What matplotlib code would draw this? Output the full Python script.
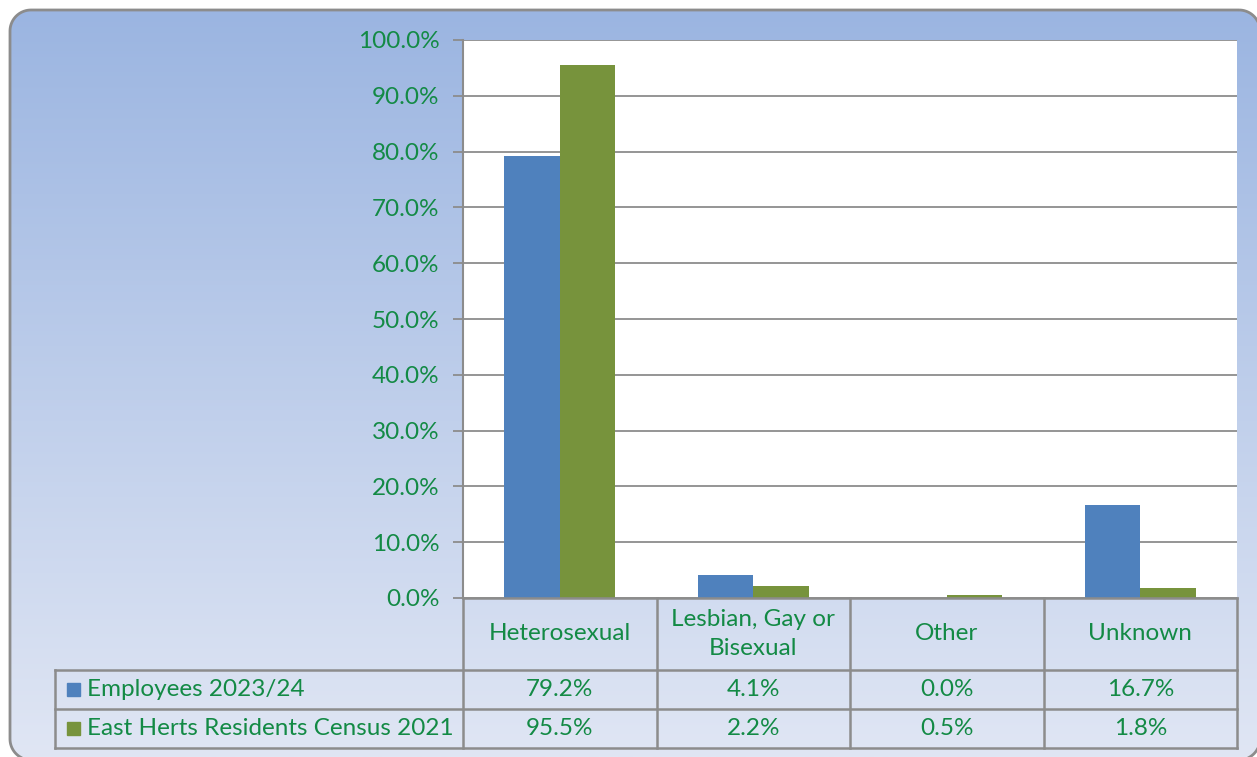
import numpy as np
import matplotlib
matplotlib.use('Agg')
import matplotlib.pyplot as plt
from matplotlib.patches import PathPatch, Rectangle
from matplotlib.path import Path
from matplotlib.ticker import PercentFormatter

plt.rcParams['font.family'] = ['Lato', 'DejaVu Sans']

categories = ['Heterosexual', 'Lesbian, Gay or\nBisexual', 'Other', 'Unknown']
series = ['Employees 2023/24', 'East Herts Residents Census 2021']
employees = [79.2, 4.1, 0.0, 16.7]
residents = [95.5, 2.2, 0.5, 1.8]
colors = ['#4f81bd', '#77933c']
txt = '#138a45'
grey = '#8c8c8c'
fs = 17.5

W, H = 1257, 757
fig = plt.figure(figsize=(W / 100, H / 100), dpi=100, facecolor='white')

def fx(px):
    return px / W

def fy(py):
    return 1 - py / H

def rounded_rect(l, t, r, b, rad, n=20):
    # pixel coords, y downwards
    pts = []
    corners = [(r - rad, t + rad, -90, 0), (r - rad, b - rad, 0, 90),
               (l + rad, b - rad, 90, 180), (l + rad, t + rad, 180, 270)]
    for cx, cy, a0, a1 in corners:
        a = np.radians(np.linspace(a0, a1, n))
        pts += list(zip(cx + rad * np.cos(a), cy + rad * np.sin(a)))
    pts.append(pts[0])
    return Path(pts, closed=True)

# background: rounded box with vertical gradient
bg = fig.add_axes([0, 0, 1, 1])
bg.set_xlim(0, W)
bg.set_ylim(H, 0)
bg.axis('off')
grad = np.linspace(0, 1, 256).reshape(-1, 1)
top = np.array([155, 181, 225]) / 255
bot = np.array([224, 230, 244]) / 255
img = top + (bot - top) * grad[..., None]
im = bg.imshow(img, extent=[0, W, H, 10], aspect='auto', zorder=0)
box = PathPatch(rounded_rect(10, 10, 1260, 760, 21), fc='none', ec=grey, lw=2,
                zorder=2, clip_on=False)
bg.add_patch(box)
im.set_clip_path(box)

# main chart
x0, x1, y0, y1 = 463, 1237, 40, 598
ax = fig.add_axes([fx(x0), fy(y1), fx(x1 - x0), fy(y0) - fy(y1)])
ax.set_facecolor('white')
x = np.arange(len(categories))
bw = 0.287
ax.bar(x - bw / 2, employees, bw, color=colors[0], zorder=3)
ax.bar(x + bw / 2, residents, bw, color=colors[1], zorder=3)
ax.set_xlim(-0.5, len(categories) - 0.5)
ax.set_ylim(0, 100)
ax.set_yticks(np.arange(0, 101, 10))
ax.yaxis.set_major_formatter(PercentFormatter(decimals=1))
ax.yaxis.grid(True, color=grey, lw=1.3, zorder=0)
ax.set_xticks([])
for s in ['top', 'right', 'bottom']:
    ax.spines[s].set_visible(False)
ax.spines['left'].set_color(grey)
ax.spines['left'].set_linewidth(1.5)
ax.tick_params(axis='y', colors=grey, length=7, width=1.3, pad=10,
               labelcolor=txt, labelsize=fs)

# data table below the chart
leftpx = 55
cw = (x1 - x0) / len(categories)
tx = fig.add_axes([fx(leftpx), fy(748), fx(x1 - leftpx), fy(598) - fy(748)])
tx.set_xlim(-0.5 - (x0 - leftpx) / cw, len(categories) - 0.5)
tx.set_ylim(150, 0)
tx.axis('off')
rows = [0, 72, 111, 150]
lk = dict(color=grey, lw=1.8, clip_on=False)
L = tx.get_xlim()[0]
tx.plot([-0.5, len(categories) - 0.5], [rows[0]] * 2, **lk)
for r in rows[1:]:
    tx.plot([L, len(categories) - 0.5], [r, r], **lk)
for b in np.arange(len(categories) + 1) - 0.5:
    tx.plot([b, b], [rows[0], rows[-1]], **lk)
tx.plot([L, L], [rows[1], rows[-1]], **lk)

for i, c in enumerate(categories):
    tx.text(i, (rows[0] + rows[1]) / 2, c, ha='center', va='center',
            color=txt, fontsize=fs, linespacing=1.45)
for j, (name, vals) in enumerate(zip(series, [employees, residents])):
    yc = (rows[j + 1] + rows[j + 2]) / 2
    for i, v in enumerate(vals):
        tx.text(i, yc, f'{v:.1f}%', ha='center', va='center', color=txt, fontsize=fs)
    sq = 13 / cw
    tx.add_patch(Rectangle((L + 12 / cw, yc - 6.5), sq, 13, color=colors[j], clip_on=False))
    tx.text(L + 32 / cw, yc, name, ha='left', va='center', color=txt, fontsize=fs)

fig.savefig('out.png', dpi=100)
